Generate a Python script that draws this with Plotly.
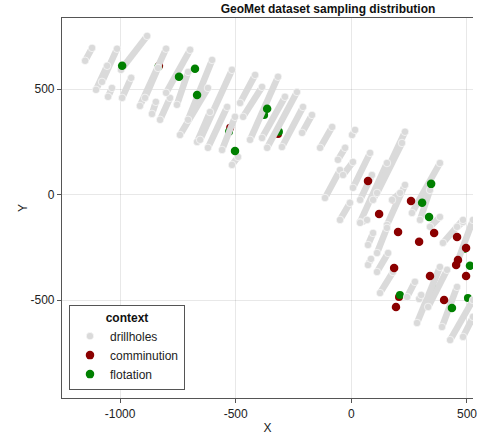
import plotly.graph_objects as go

# drillhole traces (start/end sample of each hole)
HOLE_X = [
    [-1151, -1121], [-1104, -1056], [-1078, -1013], [-1052, -1035], [-996, -883],
    [-991, -952], [-914, -801], [-892, -836], [-862, -845], [-827, -784],
    [-801, -697], [-754, -706], [-741, -620], [-706, -602], [-667, -611],
    [-654, -516], [-620, -537], [-559, -503], [-516, -490], [-481, -416],
    [-468, -386], [-438, -317], [-386, -287], [-364, -235], [-300, -209],
    [-213, -170], [-135, -83], [-58, -27], [3, 16],
    [-114, -49], [-36, 7], [7, 81], [-49, -6], [38, 89], [38, 154],
    [94, 232], [111, 219], [154, 232], [176, 211], [262, 383], [297, 340],
    [340, 383], [457, 483], [38, 68], [72, 94], [111, 154], [72, 85],
    [111, 159], [124, 180], [241, 275], [293, 302], [284, 383], [332, 414],
    [392, 457], [396, 483], [427, 526], [457, 526], [483, 526],
]
HOLE_Y = [
    [635, 696], [497, 611], [535, 692], [464, 506], [592, 753],
    [459, 554], [421, 692], [459, 601], [383, 440], [355, 459],
    [483, 687], [426, 582], [283, 506], [355, 639], [250, 392],
    [260, 592], [222, 416], [212, 369], [141, 179], [435, 568],
    [369, 511], [260, 559], [269, 464], [222, 487], [226, 416],
    [293, 378], [222, 321], [165, 222], [283, 307],
    [-16, 117], [93, 155], [32, 198], [-120, -39], [-25, 93], [-130, 150],
    [-25, 298], [8, 245], [-144, 46], [-25, 8], [-87, 150], [-120, 22],
    [-153, -106], [-153, -130], [-134, -120], [-239, -182], [-277, -158], [-334, -305],
    [-367, -277], [-467, -367], [-486, -414], [-495, -476], [-609, -343], [-533, -357],
    [-628, -438], [-229, -120], [-690, -500], [-324, -120], [-675, -580],
]

# samples
COMM_X = [72, 120, 258, 202, 358, 293, 457, 496, 461, 453, 185, 340, 496, 401, 193]
COMM_Y = [65, -92, -30, -177, -182, -224, -201, -253, -310, -334, -348, -386, -386, -500, -533]
FLOT_X = [-991, -745, -676, -667, -364, -503, 345, 306, 336, 513, 435]
FLOT_Y = [611, 559, 597, 473, 407, 207, 51, -39, -106, -338, -538]

# samples partly hidden behind drillhole points
HID_COMM_X = [-831, -524, -317, 184, 206, 345]
HID_COMM_Y = [611, 317, 288, -25, -486, -471]
HID_FLOT_X = [-835, -529, -377, -313, 210, 353, 504, 487]
HID_FLOT_Y = [605, 298, 378, 298, -476, -447, -490, -258]

TICK_X = [-1000, -500, 0, 500]
TICK_X_TEXT = ["-1000", "-500", "0", "500"]
TICK_Y = [-500, 0, 500]
TICK_Y_TEXT = ["-500", "0", "500"]

GRAY = "#dadada"
RED = "#8b0000"
GREEN = "#008000"
FONT = "Liberation Sans, Arial, sans-serif"

hx, hy, px_, py_ = [], [], [], []
for xs, ys in zip(HOLE_X, HOLE_Y):
    hx += xs + [None]
    hy += ys + [None]
    px_ += xs
    py_ += ys

fig = go.Figure()
fig.add_trace(go.Scatter(x=HID_COMM_X, y=HID_COMM_Y, mode="markers", showlegend=False,
                         marker=dict(color=RED, size=8), hoverinfo="skip"))
fig.add_trace(go.Scatter(x=HID_FLOT_X, y=HID_FLOT_Y, mode="markers", showlegend=False,
                         marker=dict(color=GREEN, size=8), hoverinfo="skip"))
fig.add_trace(go.Scatter(x=hx, y=hy, mode="lines", showlegend=False,
                         line=dict(color=GRAY, width=6.5), hoverinfo="skip"))
fig.add_trace(go.Scatter(x=px_, y=py_, mode="markers", name="drillholes", legendrank=1,
                         marker=dict(color=GRAY, size=7.5, line=dict(color="white", width=0.6))))
fig.add_trace(go.Scatter(x=COMM_X, y=COMM_Y, mode="markers", name="comminution", legendrank=2,
                         marker=dict(color=RED, size=8.5)))
fig.add_trace(go.Scatter(x=FLOT_X, y=FLOT_Y, mode="markers", name="flotation", legendrank=3,
                         marker=dict(color=GREEN, size=8.5)))

axis_common = dict(showgrid=True, gridcolor="rgba(0,0,0,0.09)", gridwidth=1, zeroline=False,
                   showline=True, linecolor="#555555", linewidth=1.2, automargin=False,
                   ticks="outside", ticklen=4, tickcolor="#555555",
                   tickfont=dict(family=FONT, size=12, color="#222222"))

fig.update_layout(
    width=484, height=440,
    margin=dict(l=62, r=11, t=18, b=42),
    paper_bgcolor="white", plot_bgcolor="white",
    font=dict(family=FONT, size=12, color="#222222"),
    title=dict(text="<b>GeoMet dataset sampling distribution</b>", xref="container",
               x=328 / 484, xanchor="center", yref="container", y=1 - 8.5 / 440,
               yanchor="middle", font=dict(family=FONT, size=12, color="#111111")),
    xaxis=dict(range=[-1251, 526], tickvals=TICK_X, ticktext=TICK_X_TEXT, mirror=True,
               title=dict(text="X", font=dict(family=FONT, size=12), standoff=4), **axis_common),
    yaxis=dict(range=[-965, 838], tickvals=TICK_Y, ticktext=TICK_Y_TEXT, mirror=False,
               title=dict(text="Y", font=dict(family=FONT, size=12), standoff=0), **axis_common),
    legend=dict(x=0.017, y=0.021, xanchor="left", yanchor="bottom",
                bgcolor="white", bordercolor="#555555", borderwidth=1,
                itemwidth=30, font=dict(family=FONT, size=12, color="#222222"),
                title=dict(text="<b>context</b>", side="top center",
                           font=dict(family=FONT, size=12, color="#111111"))),
)

# the page's default body margin would shift the figure by 8px
fig.write_html("out.html", config={"displayModeBar": False},
               post_script="document.body.style.margin='0';")
